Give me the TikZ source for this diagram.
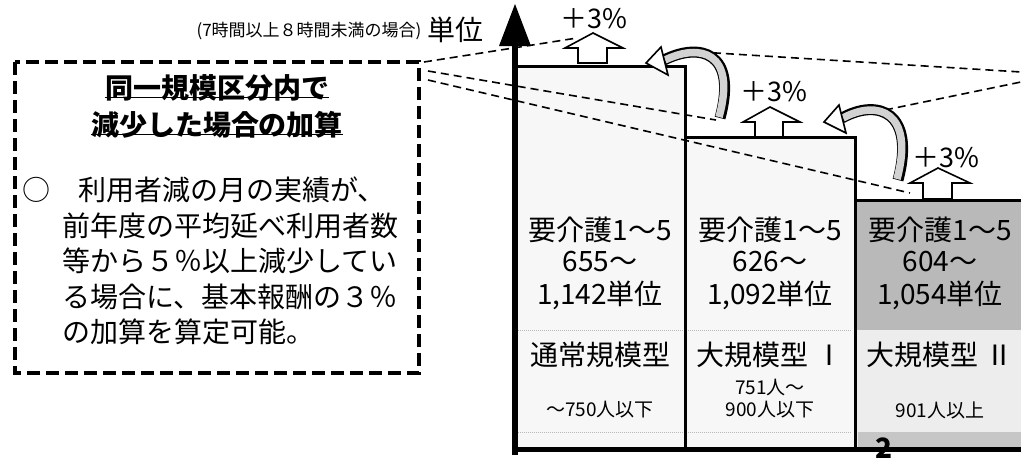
\documentclass[tikz,border=0pt]{standalone}
\usepackage{fontspec}
\setmainfont{Noto Sans CJK JP}
\usetikzlibrary{arrows.meta}
\begin{document}
\begin{tikzpicture}[x=1pt,y=-1pt,
  dline/.style={dash pattern=on 8pt off 5pt, line width=1.6pt},
  upar/.style={draw, line width=1.6pt, fill=white, line join=miter},
  barline/.style={line width=3pt},
  big/.style={font=\fontsize{28}{30}\selectfont, inner sep=0pt},
  small/.style={font=\fontsize{19}{22}\selectfont, inner sep=0pt},
  pct/.style={font=\fontsize{27}{28}\selectfont, inner sep=0pt},
  body/.style={font=\fontsize{28}{32}\selectfont, anchor=west, inner sep=0pt},
  ttl/.style={font=\fontsize{28}{32}\selectfont\bfseries, inner sep=0pt},
  curvebody/.style={line width=11pt, line cap=butt},
  curvefill/.style={line width=7.5pt, line cap=butt, draw=gray!35},
  curvehead/.style={draw, fill=white, line width=1.6pt, line join=miter},
  ]
\useasboundingbox (0,0) rectangle (1021,463);
\clip (0,0) rectangle (1021,463);
\fill[white] (0,0) rectangle (1021,463);

% bar fills
\fill[gray!6] (515,66) rectangle (685,449);
\fill[gray!6] (685,137) rectangle (855,449);
\fill[gray!55] (855,200) rectangle (1021,330);
\fill[gray!14] (855,330) rectangle (1021,449);
\draw[gray!55, densely dotted, line width=1pt] (518,330) -- (852,330);
\draw[gray!55, densely dotted, line width=1pt] (518,432) -- (852,432);
\fill[gray!45] (858,432) rectangle (1021,447);

% bar outlines
\draw[barline] (515,66) -- (685,66) -- (685,449);
\draw[barline] (685,137) -- (855,137) -- (855,449);
\draw[barline] (855,200) -- (1021,200);
\draw[line width=5pt] (512,449) -- (1021,449);

% axis
\draw[line width=6pt] (515,455) -- (515,40);
\fill (515,4) -- (531,46) -- (499,46) -- cycle;

% dashed guide lines
\draw[dline] (424,62) -- (577,38);
\draw[dline] (428,71) -- (716,120);
\draw[dline] (428,80) -- (910,193);
\draw[dline] (700,52) -- (1021,72);
\draw[dline] (885,110) -- (1021,82);

% up block arrows
\draw[upar] (593,33) -- (623,48) -- (607,48) -- (607,63) -- (578,63) -- (578,48) -- (565,48) -- cycle;
\draw[upar] (770,107) -- (800,122) -- (783,122) -- (783,137) -- (755,137) -- (755,122) -- (743,122) -- cycle;
\draw[upar] (938,168) -- (970,183) -- (952,183) -- (952,199) -- (923,199) -- (923,183) -- (910,183) -- cycle;

\node[pct] (p1) at (594,19) {＋3\%};
\node[pct] (p2) at (774,92) {＋3\%};
\node[pct] (p3) at (946,158) {＋3\%};

% curved arrows
\draw[curvebody] (720,118) .. controls (738,52) and (700,42) .. (664,60);
\draw[curvefill] (719,117) .. controls (737,52) and (700,43) .. (665,60);
\draw[curvehead] (646,63) -- (661,47) -- (668,75) -- cycle;
\draw[curvebody] (898,180) .. controls (916,112) and (878,98) .. (842,118);
\draw[curvefill] (897,179) .. controls (915,112) and (878,99) .. (843,118);
\draw[curvehead] (824,122) -- (839,105) -- (846,133) -- cycle;

% bar texts
\node[big] (a1) at (600,230) {要介護1～5};
\node[big] (a2) at (600,262) {655～};
\node[big] (a3) at (600,295) {1,142単位};
\node[big] (a4) at (600,355) {通常規模型};
\node[small] (a5) at (600,410) {～750人以下};

\node[big] (b1) at (770,230) {要介護1～5};
\node[big] (b2) at (770,262) {626～};
\node[big] (b3) at (770,295) {1,092単位};
\node[big] (b4) at (770,355) {大規模型 Ⅰ};
\node[small] (b5) at (770,387) {751人～};
\node[small] (b6) at (770,410) {900人以下};

\node[big] (c1) at (940,230) {要介護1～5};
\node[big] (c2) at (940,262) {604～};
\node[big] (c3) at (940,295) {1,054単位};
\node[big] (c4) at (940,355) {大規模型 Ⅱ};
\node[small] (c5) at (940,410) {901人以上};

\node[font=\fontsize{28}{30}\selectfont\bfseries, inner sep=0pt] (pg) at (884,448) {2};

% top labels
\node[font=\fontsize{17}{20}\selectfont, inner sep=0pt] (cond) at (309,31) {(7時間以上８時間未満の場合)};
\node[font=\fontsize{28}{30}\selectfont, inner sep=0pt] (unit) at (455,30) {単位};

% dashed box
\draw[line width=4pt, dash pattern=on 13pt off 6pt] (15,62) rectangle (419,373);
\node[ttl] (t1) at (217,88) {同一規模区分内で};
\node[ttl] (t2) at (217,125) {減少した場合の加算};
\draw[line width=1.5pt] ([yshift=4pt]t1.south west) -- ([yshift=4pt]t1.south east);
\draw[line width=1.5pt] ([yshift=4pt]t2.south west) -- ([yshift=4pt]t2.south east);

\node[body] (m0) at (22,190) {○};
\node[body] (m1) at (78,190) {利用者減の月の実績が、};
\node[body] (m2) at (62,225.5) {前年度の平均延べ利用者数};
\node[body] (m3) at (62,261) {等から５％以上減少してい};
\node[body] (m4) at (62,296.5) {る場合に、基本報酬の３％};
\node[body] (m5) at (62,332) {の加算を算定可能。};
\end{tikzpicture}
\end{document}
